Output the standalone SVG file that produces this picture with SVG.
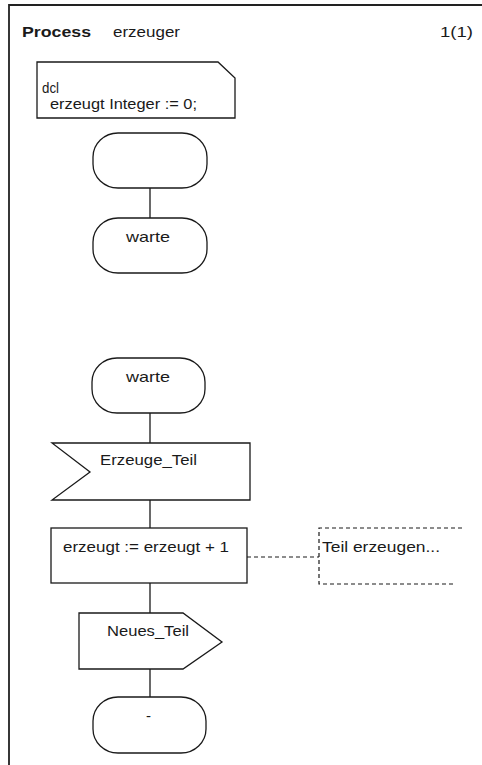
<svg xmlns="http://www.w3.org/2000/svg" width="482" height="765" viewBox="0 0 482 765">
  <style>
    .sym { fill: #ffffff; stroke: #1a1a1a; stroke-width: 1.3; }
    .flow { fill: none; stroke: #1a1a1a; stroke-width: 1.3; }
    .cmt { fill: none; stroke: #1a1a1a; stroke-width: 1.2; stroke-dasharray: 4 3; }
    text { font-family: "Liberation Sans", Arial, sans-serif; font-size: 15px; fill: #1a1a1a; }
    .title { font-weight: bold; }
    .mid { text-anchor: middle; }
  </style>
  <rect width="482" height="765" fill="#ffffff"/>

  <!-- page frame -->
  <g id="frame">
    <path d="M9,765 V5 H482" fill="none" stroke="#222" stroke-width="1.8"/>
    <text class="title" x="22" y="37" textLength="69" lengthAdjust="spacingAndGlyphs">Process</text>
    <text x="113" y="37" textLength="67" lengthAdjust="spacingAndGlyphs">erzeuger</text>
    <text x="440" y="37" textLength="33" lengthAdjust="spacingAndGlyphs">1(1)</text>
  </g>

  <!-- connectors -->
  <g id="connectors">
    <line class="flow" x1="150" y1="188" x2="150" y2="218"/>
    <line class="flow" x1="150" y1="413" x2="150" y2="443"/>
    <line class="flow" x1="150" y1="500" x2="150" y2="528"/>
    <line class="flow" x1="150" y1="583" x2="150" y2="613"/>
    <line class="flow" x1="150" y1="669" x2="150" y2="697"/>
    <line class="cmt" x1="247" y1="557" x2="319" y2="557"/>
  </g>

  <!-- declaration text symbol -->
  <g id="dcl">
    <path class="sym" d="M37,62 H218 L235,78 V118 H37 Z"/>
    <text x="42" y="93" textLength="17" lengthAdjust="spacingAndGlyphs">dcl</text>
    <text x="50" y="109" textLength="147" lengthAdjust="spacingAndGlyphs">erzeugt Integer := 0;</text>
  </g>

  <!-- start -->
  <g id="start">
    <rect class="sym" x="93" y="133" width="114" height="55" rx="25" ry="24"/>
  </g>

  <!-- first state -->
  <g id="state_warte_1">
    <rect class="sym" x="93" y="218" width="114" height="55" rx="25" ry="24"/>
    <text x="126" y="242" textLength="44" lengthAdjust="spacingAndGlyphs">warte</text>
  </g>

  <!-- state transition -->
  <g id="state_warte_2">
    <rect class="sym" x="92" y="358" width="113" height="55" rx="25" ry="24"/>
    <text x="126" y="382" textLength="44" lengthAdjust="spacingAndGlyphs">warte</text>
  </g>

  <!-- input signal -->
  <g id="input_erzeuge_teil">
    <path class="sym" d="M52,443 H250 V500 H52 L90,472 Z"/>
    <text x="100" y="465" textLength="97" lengthAdjust="spacingAndGlyphs">Erzeuge_Teil</text>
  </g>

  <!-- task -->
  <g id="task_increment">
    <rect class="sym" x="51" y="528" width="196" height="55"/>
    <text x="63" y="552" textLength="166" lengthAdjust="spacingAndGlyphs">erzeugt := erzeugt + 1</text>
  </g>

  <!-- comment -->
  <g id="comment">
    <path class="cmt" d="M462,528 H319 V584 H455"/>
    <text x="322" y="552" textLength="118" lengthAdjust="spacingAndGlyphs">Teil erzeugen...</text>
  </g>

  <!-- output signal -->
  <g id="output_neues_teil">
    <path class="sym" d="M79,613 H183 L222,642 L183,669 H79 Z"/>
    <text x="107" y="636" textLength="82" lengthAdjust="spacingAndGlyphs">Neues_Teil</text>
  </g>

  <!-- next state (unchanged) -->
  <g id="nextstate">
    <rect class="sym" x="93" y="697" width="113" height="56" rx="25" ry="24"/>
    <text x="146" y="721" textLength="5" lengthAdjust="spacingAndGlyphs">-</text>
  </g>
</svg>
